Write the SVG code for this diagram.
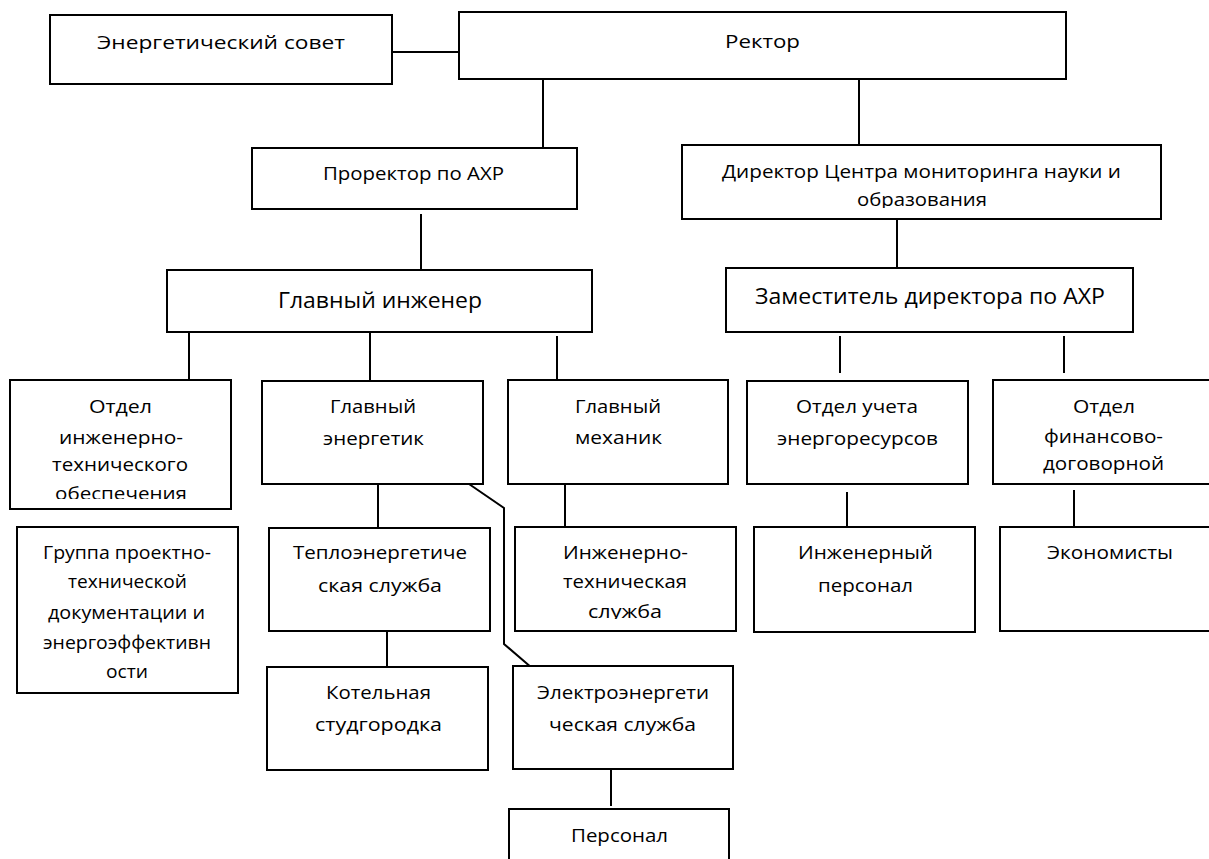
<svg xmlns="http://www.w3.org/2000/svg" width="1209" height="859" viewBox="0 0 1209 859">
<style>
rect.box{fill:#fff;stroke:#000;stroke-width:2}
.c line,.c polyline{stroke:#000;stroke-width:2;fill:none}
text{font-family:"Open Sans","Noto Sans","DejaVu Sans",sans-serif;font-size:19px;fill:#000;text-anchor:middle}
text.big{font-size:21px}
</style>
<defs>
<clipPath id="clipDir"><rect x="683" y="146" width="477" height="62"/></clipPath>
<clipPath id="clipOtd"><rect x="11" y="381" width="219" height="118"/></clipPath>
<clipPath id="clipIT"><rect x="516" y="528" width="219" height="91"/></clipPath>
<clipPath id="clipFin"><rect x="994" y="381" width="215" height="93"/></clipPath>
</defs>
<rect width="1209" height="859" fill="#fff"/>
<g class="c" id="connectors">
<line x1="392" y1="52" x2="459" y2="52"/>
<line x1="543" y1="79" x2="543" y2="148"/>
<line x1="859" y1="79" x2="859" y2="145"/>
<line x1="421" y1="214" x2="421" y2="270"/>
<line x1="897" y1="219" x2="897" y2="269"/>
<line x1="189" y1="332" x2="189" y2="381"/>
<line x1="370" y1="332" x2="370" y2="381"/>
<line x1="557" y1="336" x2="557" y2="380"/>
<line x1="840" y1="336" x2="840" y2="373"/>
<line x1="1064" y1="336" x2="1064" y2="373"/>
<line x1="378" y1="481" x2="378" y2="528"/>
<polyline points="469,484 504,508 504,644 532,668"/>
<line x1="387" y1="631" x2="387" y2="667"/>
<line x1="565" y1="484" x2="565" y2="527"/>
<line x1="847" y1="492" x2="847" y2="529"/>
<line x1="1074" y1="490" x2="1074" y2="527"/>
<line x1="611" y1="769" x2="611" y2="806"/>
</g>
<g id="energy_council"><rect class="box" x="50" y="15" width="342" height="69"/><text x="221" y="49" textLength="248" lengthAdjust="spacingAndGlyphs">Энергетический совет</text></g>
<g id="rector"><rect class="box" x="459" y="12" width="607" height="67"/><text x="762.5" y="48" textLength="75" lengthAdjust="spacingAndGlyphs">Ректор</text></g>
<g id="prorector"><rect class="box" x="252" y="148" width="325" height="61"/><text x="413.5" y="180" textLength="181" lengthAdjust="spacingAndGlyphs">Проректор по АХР</text></g>
<g id="director"><rect class="box" x="682" y="145" width="479" height="74"/><g clip-path="url(#clipDir)"><text x="921.5" y="178" textLength="399" lengthAdjust="spacingAndGlyphs">Директор Центра мониторинга науки и</text><text x="922" y="206" textLength="130" lengthAdjust="spacingAndGlyphs">образования</text></g></g>
<g id="chief_engineer"><rect class="box" x="167" y="270" width="425" height="62"/><text class="big" x="380" y="308" textLength="204" lengthAdjust="spacingAndGlyphs">Главный инженер</text></g>
<g id="deputy_director"><rect class="box" x="726" y="268" width="407" height="64"/><text class="big" x="930" y="304" textLength="350" lengthAdjust="spacingAndGlyphs">Заместитель директора по АХР</text></g>
<g id="otdel_ing"><rect class="box" x="10" y="380" width="221" height="129"/><g clip-path="url(#clipOtd)"><text x="120.5" y="413" textLength="63" lengthAdjust="spacingAndGlyphs">Отдел</text><text x="121" y="444" textLength="124" lengthAdjust="spacingAndGlyphs">инженерно-</text><text x="120" y="471" textLength="136" lengthAdjust="spacingAndGlyphs">технического</text><text x="121" y="500" textLength="132" lengthAdjust="spacingAndGlyphs">обеспечения</text></g></g>
<g id="chief_energetic"><rect class="box" x="262" y="381" width="221" height="103"/><text x="373" y="413" textLength="86" lengthAdjust="spacingAndGlyphs">Главный</text><text x="373.5" y="445" textLength="101" lengthAdjust="spacingAndGlyphs">энергетик</text></g>
<g id="chief_mechanic"><rect class="box" x="508" y="380" width="220" height="104"/><text x="618" y="413" textLength="86" lengthAdjust="spacingAndGlyphs">Главный</text><text x="618.5" y="444" textLength="87" lengthAdjust="spacingAndGlyphs">механик</text></g>
<g id="otdel_ucheta"><rect class="box" x="747" y="381" width="221" height="103"/><text x="857" y="413" textLength="122" lengthAdjust="spacingAndGlyphs">Отдел учета</text><text x="857.5" y="445" textLength="161" lengthAdjust="spacingAndGlyphs">энергоресурсов</text></g>
<g id="otdel_fin"><rect class="box" x="993" y="380" width="222" height="104"/><g clip-path="url(#clipFin)"><text x="1104" y="413" textLength="62" lengthAdjust="spacingAndGlyphs">Отдел</text><text x="1103.5" y="443" textLength="119" lengthAdjust="spacingAndGlyphs">финансово-</text><text x="1103.5" y="470" textLength="121" lengthAdjust="spacingAndGlyphs">договорной</text></g></g>
<g id="gruppa"><rect class="box" x="17" y="527" width="221" height="166"/><text x="127" y="559" textLength="168" lengthAdjust="spacingAndGlyphs">Группа проектно-</text><text x="127.5" y="588" textLength="119" lengthAdjust="spacingAndGlyphs">технической</text><text x="126.5" y="619" textLength="157" lengthAdjust="spacingAndGlyphs">документации и</text><text x="127" y="649" textLength="168" lengthAdjust="spacingAndGlyphs">энергоэффективн</text><text x="127" y="678" textLength="42" lengthAdjust="spacingAndGlyphs">ости</text></g>
<g id="teplo"><rect class="box" x="269" y="528" width="221" height="103"/><text x="380" y="559" textLength="174" lengthAdjust="spacingAndGlyphs">Теплоэнергетиче</text><text x="380" y="592" textLength="124" lengthAdjust="spacingAndGlyphs">ская служба</text></g>
<g id="inzh_tekh"><rect class="box" x="515" y="527" width="221" height="104"/><g clip-path="url(#clipIT)"><text x="625.5" y="559" textLength="125" lengthAdjust="spacingAndGlyphs">Инженерно-</text><text x="625" y="588" textLength="124" lengthAdjust="spacingAndGlyphs">техническая</text><text x="625" y="618" textLength="74" lengthAdjust="spacingAndGlyphs">служба</text></g></g>
<g id="inzh_personal"><rect class="box" x="754" y="527" width="221" height="105"/><text x="865.5" y="559" textLength="135" lengthAdjust="spacingAndGlyphs">Инженерный</text><text x="865.5" y="592" textLength="95" lengthAdjust="spacingAndGlyphs">персонал</text></g>
<g id="ekonomisty"><rect class="box" x="1000" y="527" width="220" height="104"/><text x="1110" y="559" textLength="126" lengthAdjust="spacingAndGlyphs">Экономисты</text></g>
<g id="kotelnaya"><rect class="box" x="267" y="667" width="221" height="103"/><text x="378.5" y="699" textLength="105" lengthAdjust="spacingAndGlyphs">Котельная</text><text x="378.5" y="731" textLength="127" lengthAdjust="spacingAndGlyphs">студгородка</text></g>
<g id="elektro"><rect class="box" x="513" y="666" width="220" height="103"/><text x="623" y="699" textLength="172" lengthAdjust="spacingAndGlyphs">Электроэнергети</text><text x="622.5" y="731" textLength="147" lengthAdjust="spacingAndGlyphs">ческая служба</text></g>
<g id="personal"><rect class="box" x="509" y="809" width="220" height="60"/><text x="619.5" y="842" textLength="97" lengthAdjust="spacingAndGlyphs">Персонал</text></g>
</svg>
